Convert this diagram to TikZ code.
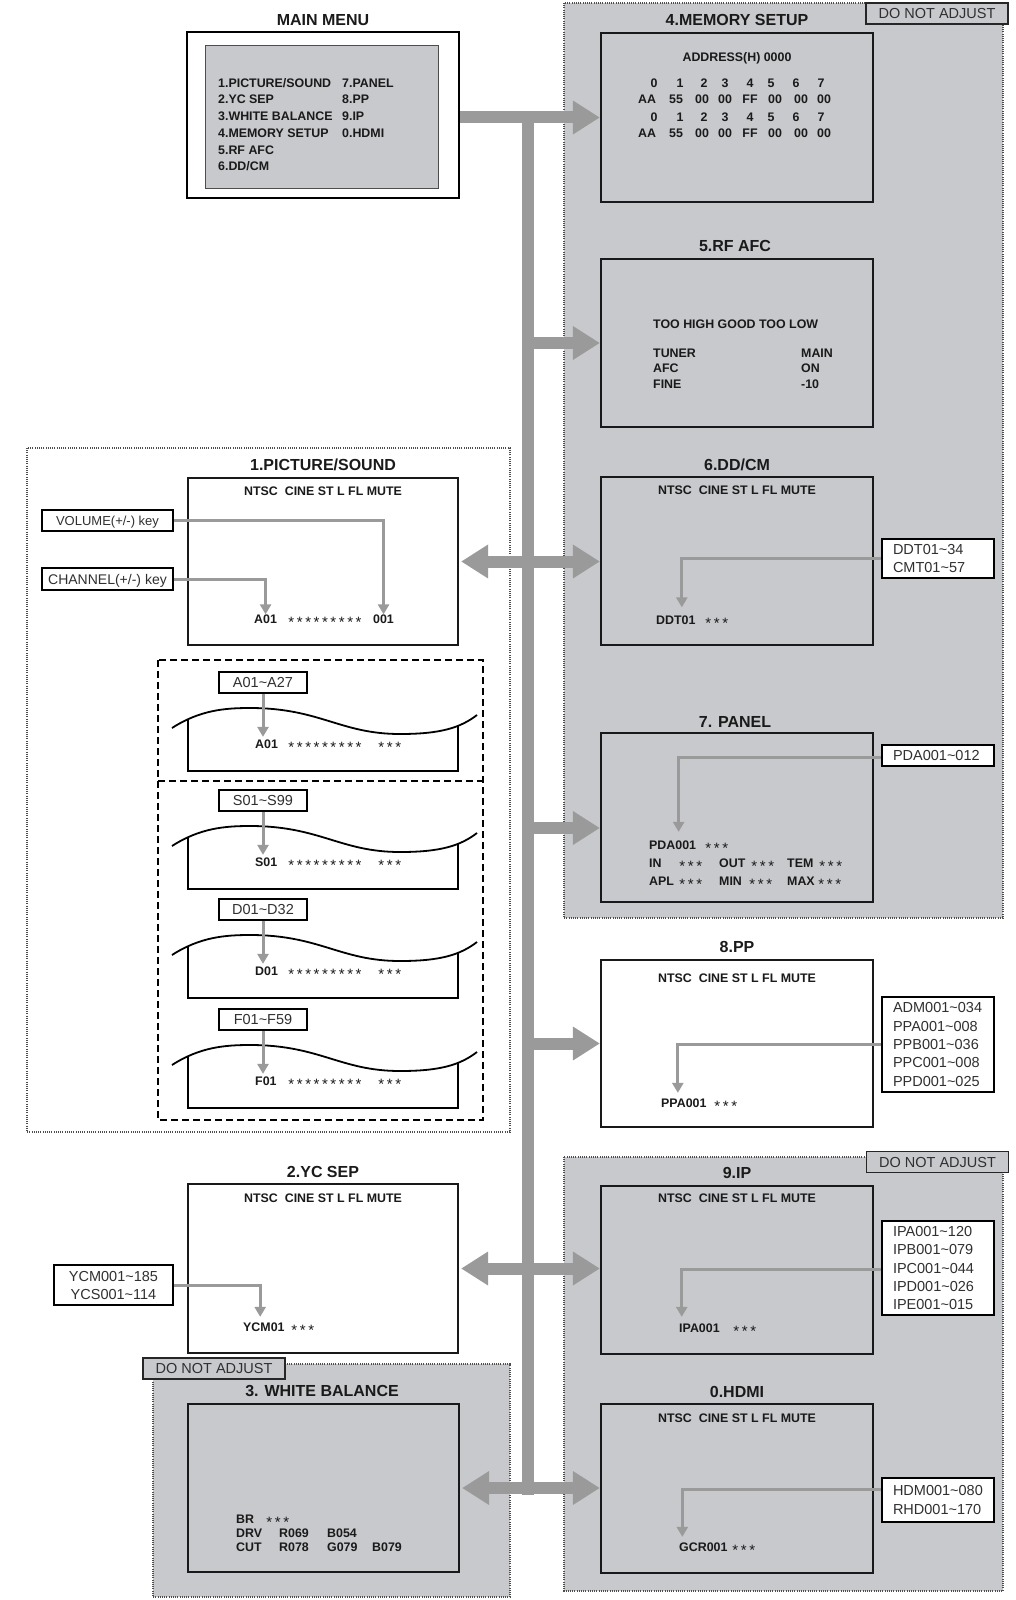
\documentclass[tikz,border=0pt]{standalone}
\usepackage{fontspec}
\setmainfont{Liberation Sans}
\usetikzlibrary{arrows.meta}
\definecolor{regfill}{HTML}{C8C9CC}
\definecolor{arrgray}{HTML}{9A9A9A}
\definecolor{dotgray}{HTML}{4D4D4D}
\definecolor{txtdark}{HTML}{1A1A1A}
\definecolor{txtco}{HTML}{303030}
\newcommand\tld{\textasciitilde}
\newcommand\onestar{\makebox[8.4pt]{\raisebox{-4.2pt}{\fontsize{15}{15}\selectfont\mdseries *}}}
\newcommand\threestars{\onestar\onestar\onestar}
\newcommand\ninestars{\threestars\threestars\threestars}
\newcommand\ntsc{NTSC\hspace{7pt}CINE ST L FL MUTE}
\begin{document}
\begin{tikzpicture}[x=1pt,y=-1pt,
  grayregion/.style={fill=regfill, draw=dotgray, line width=1.1pt, dash pattern=on 1pt off 1.2pt},
  whiteregion/.style={draw=dotgray, line width=1.1pt, dash pattern=on 1pt off 1.2pt},
  scrbox/.style={draw=black!90, line width=2.2pt, inner sep=0pt},
  ttl/.style={font=\fontsize{16}{18}\selectfont\bfseries, text=txtdark, inner sep=0pt, text height=11.5pt, text depth=0pt},
  scrtext/.style={font=\fontsize{12.4}{14}\selectfont\bfseries, text=txtdark, inner sep=0pt, text height=8.9pt, text depth=0pt},
  coone/.style={draw=black, line width=1.4pt, fill=white, font=\fontsize{14.5}{18.3}\selectfont, text=txtco, inner sep=0pt, text height=10.4pt, text depth=0pt},
  comulti/.style={draw=black, line width=1.4pt, fill=white, font=\fontsize{14.5}{18.3}\selectfont, text=txtco, inner ysep=0pt, inner xsep=11pt, text width=90pt, align=left},
  cocenter/.style={draw=black, line width=1.4pt, fill=white, font=\fontsize{14.5}{18}\selectfont, text=txtco, inner sep=0pt, align=center},
  dnabox/.style={draw=black!85, line width=1.4pt, fill=regfill, font=\fontsize{14.5}{17}\selectfont, text=txtco, inner sep=0pt, text height=10.4pt, text depth=0pt, minimum width=142pt, minimum height=21pt},
  bigbar/.style={draw=arrgray, line width=12pt},
  bigtip/.style={-{Triangle[length=27pt,width=32pt]}},
  bigtwo/.style={{Triangle[length=27pt,width=32pt]}-{Triangle[length=27pt,width=32pt]}},
  cnx/.style={draw=arrgray, line width=3pt, -{Triangle[length=10pt,width=11pt]}},
  wave/.style={draw=black, line width=1.8pt},
  dashframe/.style={draw=black, line width=1.8pt, dash pattern=on 7pt off 4pt},
]
\useasboundingbox (0,0) rectangle (1015,1600);

% ---------- regions ----------
\draw[whiteregion] (27,448) rectangle (510,1132);
\draw[grayregion] (564,3) rectangle (1003,918);
\draw[grayregion] (564,1157) rectangle (1003,1591);
\draw[grayregion] (153,1364) rectangle (510,1597);

\node[dnabox] (dna1) at (937,13.5) {DO NOT ADJUST};
\node[dnabox] (dna2) at (937.5,1162) {DO NOT ADJUST};
\node[dnabox] (dna3) at (214,1368.5) {DO NOT ADJUST};

% ---------- dashed frame with channel / sound blocks ----------
\draw[dashframe] (158,660) rectangle (483,1120);
\draw[dashframe] (158,781) -- (483,781);

\foreach \dy/\rng/\lab [count=\k] in {0/A01\tld A27/A01, 118/S01\tld S99/S01, 227/D01\tld D32/D01, 337/F01\tld F59/F01}{
  \begin{scope}[yshift={-\dy pt}]
    \draw[wave] (172,728) .. controls (200,710) and (225,708) .. (250,708)
       .. controls (320,708) and (340,734) .. (400,734)
       .. controls (440,734) and (460,728) .. (477,715);
    \draw[wave] (188,719) -- (188,771) -- (458,771) -- (458,726);
    \node[coone, minimum width=88pt, minimum height=21pt] (cb\k) at (263,682.5) {\rng};
    \node[scrtext, anchor=west] (ct\k) at (255,744) {\lab};
    \node[scrtext, anchor=west] (cs\k) at (287,744) {\ninestars};
    \node[scrtext, anchor=west] (cv\k) at (377,744) {\threestars};
    \draw[cnx, shorten >=2.5pt] (cb\k.south) -- (cb\k.south |- ct\k.north);
  \end{scope}
}

% ---------- main menu ----------
\node[draw=black, line width=2.5pt, fill=white, minimum width=272pt, minimum height=166pt, inner sep=0pt] (menu) at (323,115) {};
\node[draw=dotgray, line width=1pt, fill=regfill, minimum width=233pt, minimum height=142pt, inner sep=0pt] (menuin) at (321.5,117) {};
\node[ttl] (tmenu) at (323,20) {MAIN MENU};
\node[scrtext, anchor=west] (mm1) at (218,83) {1.PICTURE/SOUND};
\node[scrtext, anchor=west] (mm2) at (218,99) {2.YC SEP};
\node[scrtext, anchor=west] (mm3) at (218,116) {3.WHITE BALANCE};
\node[scrtext, anchor=west] (mm4) at (218,133) {4.MEMORY SETUP};
\node[scrtext, anchor=west] (mm5) at (218,150) {5.RF AFC};
\node[scrtext, anchor=west] (mm6) at (218,166) {6.DD/CM};
\node[scrtext, anchor=west] (mm7) at (342,83) {7.PANEL};
\node[scrtext, anchor=west] (mm8) at (342,99) {8.PP};
\node[scrtext, anchor=west] (mm9) at (342,116) {9.IP};
\node[scrtext, anchor=west] (mm0) at (342,133) {0.HDMI};

% ---------- screen boxes ----------
\node[scrbox, minimum width=272pt, minimum height=169pt] (mem) at (737,117.5) {};
\node[scrbox, minimum width=272pt, minimum height=168pt] (rf) at (737,343) {};
\node[scrbox, minimum width=272pt, minimum height=168pt] (dd) at (737,561) {};
\node[scrbox, minimum width=272pt, minimum height=169pt] (pan) at (737,817.5) {};
\node[scrbox, fill=white, minimum width=272pt, minimum height=167pt] (pp) at (737,1043.5) {};
\node[scrbox, minimum width=272pt, minimum height=168pt] (ip) at (737,1270) {};
\node[scrbox, minimum width=272pt, minimum height=169pt] (hd) at (737,1488.5) {};
\node[scrbox, fill=white, minimum width=270pt, minimum height=167pt] (pic) at (323,561.5) {};
\node[scrbox, minimum width=270pt, minimum height=169pt] (yc) at (323,1268.5) {};
\node[scrbox, minimum width=271pt, minimum height=168pt] (wb) at (323.5,1488) {};

% titles
\node[ttl] (tmem) at (737,20) {4.MEMORY SETUP};
\node[ttl] (trf) at (735,246) {5.RF AFC};
\node[ttl] (tdd) at (737,465) {6.DD/CM};
\node[ttl] (tpan) at (735,722) {7. PANEL};
\node[ttl] (tpp) at (737,947) {8.PP};
\node[ttl] (tip) at (737,1173) {9.IP};
\node[ttl] (thd) at (737,1392) {0.HDMI};
\node[ttl] (tpic) at (323,465) {1.PICTURE/SOUND};
\node[ttl] (tyc) at (323,1172) {2.YC SEP};
\node[ttl] (twb) at (322,1391) {3. WHITE BALANCE};

% memory setup contents
\node[scrtext] (addr) at (737,57) {ADDRESS(H) 0000};
\foreach \cx/\dg [count=\k] in {654/0,680/1,704/2,725/3,750/4,771/5,796/6,821/7}{
  \node[scrtext] (mh\k) at (\cx,83) {\dg};
  \node[scrtext] (mj\k) at (\cx,117) {\dg};
}
\foreach \cx/\vv [count=\k] in {647/AA,676/55,702/00,725/00,750/FF,775/00,801/00,824/00}{
  \node[scrtext] (mv\k) at (\cx,99) {\vv};
  \node[scrtext] (mw\k) at (\cx,133) {\vv};
}

% RF AFC contents
\node[scrtext, anchor=west] (rf1) at (653,324) {TOO HIGH GOOD TOO LOW};
\node[scrtext, anchor=west] (rf2) at (653,353) {TUNER};
\node[scrtext, anchor=west] (rf3) at (653,368) {AFC};
\node[scrtext, anchor=west] (rf4) at (653,384) {FINE};
\node[scrtext, anchor=west] (rf5) at (801,353) {MAIN};
\node[scrtext, anchor=west] (rf6) at (801,368) {ON};
\node[scrtext, anchor=west] (rf7) at (801,384) {-10};

% DD/CM contents
\node[scrtext] (ddn) at (737,490) {\ntsc};
\node[scrtext, anchor=west] (ddt) at (656,620) {DDT01};
\node[scrtext, anchor=west] (dds) at (704,620) {\threestars};

% PANEL contents
\node[scrtext, anchor=west] (pda) at (649,845) {PDA001};
\node[scrtext, anchor=west] (pdas) at (704,845) {\threestars};
\node[scrtext, anchor=west] (pin) at (649,863) {IN};
\node[scrtext, anchor=west] (pins) at (678,863) {\threestars};
\node[scrtext, anchor=west] (pout) at (719,863) {OUT};
\node[scrtext, anchor=west] (pouts) at (750,863) {\threestars};
\node[scrtext, anchor=west] (ptem) at (787,863) {TEM};
\node[scrtext, anchor=west] (ptems) at (818,863) {\threestars};
\node[scrtext, anchor=west] (papl) at (649,881) {APL};
\node[scrtext, anchor=west] (papls) at (678,881) {\threestars};
\node[scrtext, anchor=west] (pmin) at (719,881) {MIN};
\node[scrtext, anchor=west] (pmins) at (748,881) {\threestars};
\node[scrtext, anchor=west] (pmax) at (787,881) {MAX};
\node[scrtext, anchor=west] (pmaxs) at (817,881) {\threestars};

% PP contents
\node[scrtext] (ppn) at (737,978) {\ntsc};
\node[scrtext, anchor=west] (ppa) at (661,1103) {PPA001};
\node[scrtext, anchor=west] (ppas) at (713,1103) {\threestars};

% IP contents
\node[scrtext] (ipn) at (737,1198) {\ntsc};
\node[scrtext, anchor=west] (ipa) at (679,1328) {IPA001};
\node[scrtext, anchor=west] (ipas) at (732,1328) {\threestars};

% HDMI contents
\node[scrtext] (hdn) at (737,1418) {\ntsc};
\node[scrtext, anchor=west] (gcr) at (679,1547) {GCR001};
\node[scrtext, anchor=west] (gcrs) at (731,1547) {\threestars};

% PICTURE/SOUND contents
\node[scrtext] (picn) at (323,491) {\ntsc};
\node[scrtext, anchor=west] (a01) at (254,619) {A01};
\node[scrtext, anchor=west] (a01s) at (287,619) {\ninestars};
\node[scrtext, anchor=west] (v001) at (373,619) {001};

% YC SEP contents
\node[scrtext] (ycn) at (323,1198) {\ntsc};
\node[scrtext, anchor=west] (ycm) at (243,1327) {YCM01};
\node[scrtext, anchor=west] (ycms) at (290,1327) {\threestars};

% WHITE BALANCE contents
\node[scrtext, anchor=west] (wbr) at (236,1519) {BR};
\node[scrtext, anchor=west] (wbrs) at (265,1519) {\threestars};
\node[scrtext, anchor=west] (wdrv) at (236,1533) {DRV};
\node[scrtext, anchor=west] (wdr1) at (279,1533) {R069};
\node[scrtext, anchor=west] (wdr2) at (327,1533) {B054};
\node[scrtext, anchor=west] (wcut) at (236,1547) {CUT};
\node[scrtext, anchor=west] (wcu1) at (279,1547) {R078};
\node[scrtext, anchor=west] (wcu2) at (327,1547) {G079};
\node[scrtext, anchor=west] (wcu3) at (372,1547) {B079};

% ---------- callout boxes ----------
\node[coone, font=\fontsize{13}{15}\selectfont, minimum width=131pt, minimum height=21pt] (vol) at (107.5,520.5) {VOLUME(+/-) key};
\node[coone, font=\fontsize{14}{16}\selectfont, minimum width=131pt, minimum height=22pt] (chan) at (107.5,579) {CHANNEL(+/-) key};
\node[comulti, minimum width=112pt, minimum height=39pt] (ddc) at (938,558.5) {DDT01\tld 34\\CMT01\tld 57};
\node[comulti, text height=10.4pt, text depth=0pt, minimum width=112pt, minimum height=21pt] (pdac) at (938,755.5) {PDA001\tld 012};
\node[comulti, minimum width=112pt, minimum height=95pt] (ppc) at (938,1044.5) {ADM001\tld 034\\PPA001\tld 008\\PPB001\tld 036\\PPC001\tld 008\\PPD001\tld 025};
\node[comulti, minimum width=112pt, minimum height=94pt] (ipc) at (938,1268) {IPA001\tld 120\\IPB001\tld 079\\IPC001\tld 044\\IPD001\tld 026\\IPE001\tld 015};
\node[comulti, minimum width=112pt, minimum height=44pt] (hdc) at (938,1500) {HDM001\tld 080\\RHD001\tld 170};
\node[cocenter, minimum width=119pt, minimum height=40pt] (ycc) at (113.5,1285) {YCM001\tld 185\\YCS001\tld 114};

% ---------- big gray arrows ----------
\coordinate (sptop) at (528,112);
\coordinate (spbot) at (528,1495);
\draw[bigbar] (sptop) -- (spbot);
\draw[bigbar, bigtip] (menu.east |- mem.west) -- (mem.west);
\draw[bigbar, bigtip] (sptop |- rf.west) -- (rf.west);
\coordinate (panin) at ([yshift=-10.5pt]pan.west);
\draw[bigbar, bigtip] (sptop |- panin) -- (panin);
\draw[bigbar, bigtip] (sptop |- pp.west) -- (pp.west);
\draw[bigbar, bigtwo, shorten <=2pt] (pic.east) -- (pic.east -| dd.west);
\draw[bigbar, bigtwo, shorten <=2pt] (yc.east) -- (yc.east -| ip.west);
\draw[bigbar, bigtwo, shorten <=2pt] (wb.east) -- (wb.east -| hd.west);

% ---------- callout connectors ----------
\draw[cnx] (vol.east) -| (v001.north);
\draw[cnx] (chan.east) -| (a01.north);
\draw[cnx, shorten >=8pt] (ddc.west) -| ([xshift=6pt]ddt.north);
\draw[cnx, shorten >=8.5pt] ([yshift=-1.5pt]pdac.west) -| ([xshift=6pt]pda.north);
\draw[cnx, shorten >=5.5pt] (ppc.west) -| ([xshift=-6pt]ppa.north);
\draw[cnx, shorten >=6.5pt] ([yshift=-1pt]ipc.west) -| ([xshift=-17.7pt]ipa.north);
\draw[cnx, shorten >=5.5pt] ([yshift=11pt]hdc.west) -| ([xshift=-21pt]gcr.north);
\draw[cnx, shorten >=5.5pt] (ycc.east) -| ([xshift=-3.7pt]ycm.north);
\end{tikzpicture}
\end{document}
